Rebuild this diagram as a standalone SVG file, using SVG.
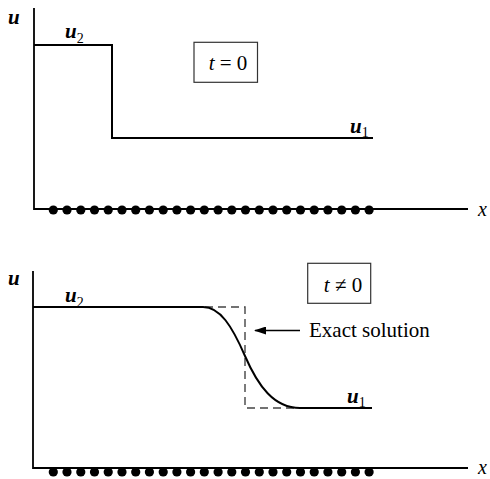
<svg xmlns="http://www.w3.org/2000/svg" width="490" height="479" viewBox="0 0 490 479">
<style>
.ax{stroke:#000;stroke-width:1.8;fill:none}
.ln{stroke:#000;stroke-width:2;fill:none}
.dash{stroke:#444;stroke-width:1.4;fill:none;stroke-dasharray:8,5}
.box{stroke:#333;stroke-width:1.2;fill:#fff}
.lab{font-family:"Liberation Serif","Times New Roman",serif;font-size:21px;font-style:italic;font-weight:bold;fill:#000}
.xl{font-family:"Liberation Serif","Times New Roman",serif;font-size:20px;font-style:italic;fill:#000}
.sub{font-family:"Liberation Serif","Times New Roman",serif;font-size:14px;font-style:normal;font-weight:normal;fill:#000}
.t{font-family:"Liberation Serif","Times New Roman",serif;font-size:21px;fill:#000}
.dot{fill:#000}
</style>
<defs>
<marker id="ah" markerWidth="12" markerHeight="8" refX="11" refY="4" orient="auto" markerUnits="userSpaceOnUse">
<path d="M0,0 L12,4 L0,8 Z" fill="#000"/>
</marker>
<g id="dotrow">
<circle cx="53.3" cy="0" r="4.6"/><circle cx="67.0" cy="0" r="4.6"/><circle cx="80.8" cy="0" r="4.6"/><circle cx="94.5" cy="0" r="4.6"/><circle cx="108.2" cy="0" r="4.6"/><circle cx="122.0" cy="0" r="4.6"/><circle cx="135.7" cy="0" r="4.6"/><circle cx="149.4" cy="0" r="4.6"/><circle cx="163.2" cy="0" r="4.6"/><circle cx="176.9" cy="0" r="4.6"/><circle cx="190.6" cy="0" r="4.6"/><circle cx="204.3" cy="0" r="4.6"/><circle cx="218.1" cy="0" r="4.6"/><circle cx="231.8" cy="0" r="4.6"/><circle cx="245.5" cy="0" r="4.6"/><circle cx="259.3" cy="0" r="4.6"/><circle cx="273.0" cy="0" r="4.6"/><circle cx="286.7" cy="0" r="4.6"/><circle cx="300.5" cy="0" r="4.6"/><circle cx="314.2" cy="0" r="4.6"/><circle cx="327.9" cy="0" r="4.6"/><circle cx="341.7" cy="0" r="4.6"/><circle cx="355.4" cy="0" r="4.6"/><circle cx="369.1" cy="0" r="4.6"/>
</g>
</defs>
<rect width="490" height="479" fill="#fff"/>

<g id="top-panel">
<g id="top-axes">
<path class="ax" d="M34,8 L34,209 L468,209"/>
<text class="lab" x="8" y="24">u</text>
<text class="xl" x="478" y="216">x</text>
</g>
<g id="top-grid" class="dot"><use href="#dotrow" y="210"/></g>
<g id="top-profile">
<path class="ln" d="M34,45 L112,45 L112,138 L373,138"/>
<text class="lab" x="65" y="38">u<tspan class="sub" dy="5">2</tspan></text>
<text class="lab" x="350" y="133">u<tspan class="sub" dy="4">1</tspan></text>
</g>
<g id="box-t0">
<rect class="box" x="194" y="42.3" width="63.5" height="40"/>
<text class="t" x="228" y="69.5" text-anchor="middle"><tspan font-style="italic">t</tspan> = 0</text>
</g>
</g>

<g id="bottom-panel">
<g id="bottom-axes">
<path class="ax" d="M33,271 L33,468 L468,468"/>
<text class="lab" x="8" y="285">u</text>
<text class="xl" x="478" y="474">x</text>
</g>
<g id="bottom-grid" class="dot"><use href="#dotrow" y="472"/></g>
<g id="exact-solution">
<path class="dash" d="M205,307 L245,307 L245,408 L298,408"/>
</g>
<g id="numerical-profile">
<path class="ln" d="M33,307 L203,307 C220,307 232,326 245,356 C258,386 274,408 300,408 L372,408"/>
<text class="lab" x="65" y="302">u<tspan class="sub" dy="5">2</tspan></text>
<text class="lab" x="347" y="403">u<tspan class="sub" dy="4">1</tspan></text>
</g>
<g id="box-tne0">
<rect class="box" x="307.7" y="263.3" width="63" height="40"/>
<text class="t" x="343" y="291.5" text-anchor="middle"><tspan font-style="italic">t</tspan> ≠ 0</text>
</g>
<g id="label-exact">
<text class="t" x="309" y="337">Exact solution</text>
</g>
</g>

<g id="connectors">
<line x1="300" y1="330.5" x2="255" y2="330.5" stroke="#000" stroke-width="1.5" marker-end="url(#ah)"/>
</g>
</svg>
